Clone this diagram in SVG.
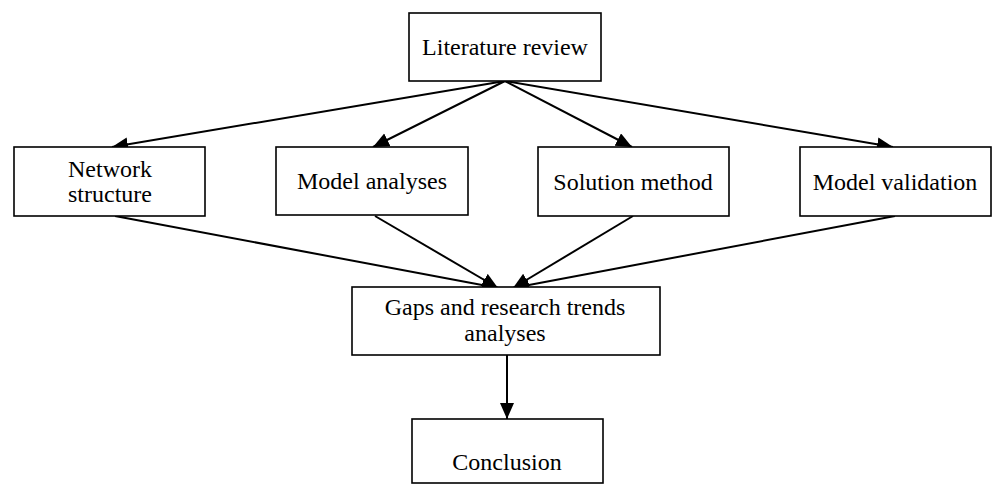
<svg xmlns="http://www.w3.org/2000/svg" width="992" height="484" viewBox="0 0 992 484">
<style>
.box{fill:#fff;stroke:#000;stroke-width:1.6}
.t{font-family:"Liberation Serif","Times New Roman",serif;font-size:24px;fill:#000;text-anchor:middle}
.c{stroke:#000;stroke-width:2;fill:none;marker-end:url(#ah)}
</style>
<defs>
<marker id="ah" markerUnits="userSpaceOnUse" markerWidth="18" markerHeight="16" refX="16" refY="7" orient="auto">
<path d="M0,0 L16,7 L0,14 z" fill="#000"/>
</marker>
</defs>
<rect width="992" height="484" fill="#fff"/>
<g id="connectors">
<line class="c" x1="505" y1="81" x2="112" y2="147"/>
<line class="c" x1="505" y1="81" x2="373" y2="147"/>
<line class="c" x1="505" y1="81" x2="632" y2="147"/>
<line class="c" x1="505" y1="81" x2="893" y2="147"/>
<line class="c" x1="115" y1="216" x2="498" y2="288"/>
<line class="c" x1="375" y1="216" x2="498" y2="288"/>
<line class="c" x1="633" y1="216" x2="513" y2="288"/>
<line class="c" x1="895" y1="216" x2="513" y2="288"/>
<line class="c" x1="507" y1="355" x2="507" y2="419"/>
</g>
<g id="literature"><rect class="box" x="409" y="13" width="192" height="68"/><text class="t" x="505" y="55">Literature review</text></g>
<g id="network"><rect class="box" x="14" y="147" width="191" height="69"/><text class="t" x="110" y="177">Network</text><text class="t" x="110" y="202">structure</text></g>
<g id="analyses"><rect class="box" x="276" y="147" width="192" height="68"/><text class="t" x="372" y="189">Model analyses</text></g>
<g id="solution"><rect class="box" x="538" y="147" width="191" height="69"/><text class="t" x="633" y="190">Solution method</text></g>
<g id="validation"><rect class="box" x="800" y="147" width="191" height="69"/><text class="t" x="895" y="190">Model validation</text></g>
<g id="gaps"><rect class="box" x="352" y="287" width="308" height="68"/><text class="t" x="505" y="315">Gaps and research trends</text><text class="t" x="505" y="341">analyses</text></g>
<g id="conclusion"><rect class="box" x="412" y="419" width="191" height="64"/><text class="t" x="507" y="470">Conclusion</text></g>
</svg>
